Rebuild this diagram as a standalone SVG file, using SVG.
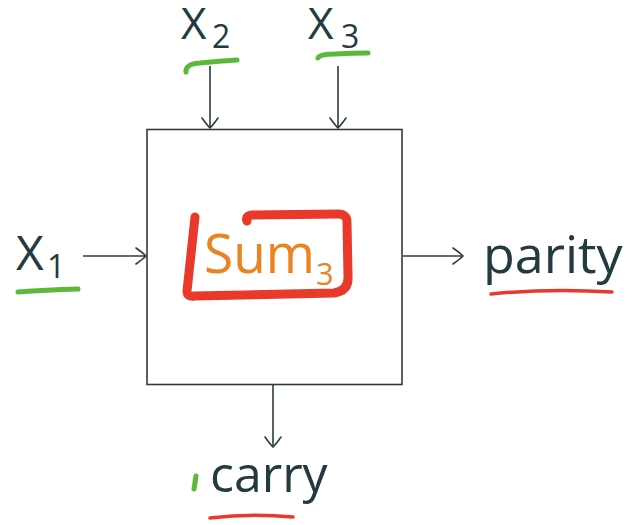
<svg xmlns="http://www.w3.org/2000/svg" width="641" height="525" viewBox="0 0 641 525">
  <style>
    .lbl { font-family: "Open Sans", "Noto Sans", sans-serif; fill: #233a3e; }
    .sum { font-family: "Open Sans", "Noto Sans", sans-serif; fill: #ea8423; }
    .wire { stroke: #2d3b3f; stroke-width: 1.6; fill: none; marker-end: url(#head); }
    .green { stroke: #5cb83a; stroke-width: 5; fill: none; stroke-linecap: round; }
    .red { stroke: #e8392a; fill: none; stroke-linecap: round; stroke-linejoin: round; }
  </style>
  <defs>
    <marker id="head" viewBox="-12 -10 14 20" markerWidth="14" markerHeight="20" refX="0" refY="0" orient="auto" markerUnits="userSpaceOnUse">
      <path d="M-10,-8 Q-3,-3 0,0 Q-3,3 -10,8" fill="none" stroke="#2d3b3f" stroke-width="1.6" stroke-linecap="round"/>
    </marker>
  </defs>

  <rect width="641" height="525" fill="#ffffff"/>

  <!-- the Sum3 block -->
  <g id="block">
    <rect x="147" y="129.5" width="255" height="255" fill="none" stroke="#2d3b3f" stroke-width="1.6"/>
    <path class="red" stroke-width="9" d="M195,217 L187,291 Q187,297 194,296 L334,293 Q349,291 348,276 L347,222 Q347,214 338,214 L252,215 Q245,216 247,221"/>
    <text class="sum" x="204" y="273" font-size="54" textLength="111" lengthAdjust="spacingAndGlyphs">Sum</text>
    <text class="sum" x="316" y="285" font-size="31">3</text>
  </g>

  <!-- inputs -->
  <g id="x1">
    <text class="lbl" x="16" y="270" font-size="48">X</text>
    <text class="lbl" x="47" y="278" font-size="32">1</text>
    <path class="green" d="M18,292 Q45,290 78,289"/>
  </g>
  <g id="x2">
    <text class="lbl" x="181" y="39" font-size="44">X</text>
    <text class="lbl" x="212" y="48" font-size="32">2</text>
    <path class="green" d="M186,72 Q185,64 200,63 Q220,61 237,60"/>
  </g>
  <g id="x3">
    <text class="lbl" x="308" y="39" font-size="44">X</text>
    <text class="lbl" x="341" y="48" font-size="32">3</text>
    <path class="green" d="M318,58 Q320,54 335,54 Q352,53 368,53"/>
  </g>

  <!-- outputs -->
  <g id="parity">
    <text class="lbl" x="483" y="273" font-size="52">parity</text>
    <path class="red" stroke-width="3.5" d="M491,294 Q550,288 612,292"/>
  </g>
  <g id="carry">
    <text class="lbl" x="210" y="492" font-size="50">carry</text>
    <path class="green" stroke-width="3.5" d="M196,476 L194,489"/>
    <path class="red" stroke-width="3.5" d="M210,518 Q250,513 293,517"/>
  </g>

  <!-- connectors -->
  <g id="connectors">
    <path class="wire" d="M83,256 H146"/>
    <path class="wire" d="M210,66 V128"/>
    <path class="wire" d="M338,66 V128"/>
    <path class="wire" d="M403,256 H463"/>
    <path class="wire" d="M273,385 V447"/>
  </g>
</svg>
